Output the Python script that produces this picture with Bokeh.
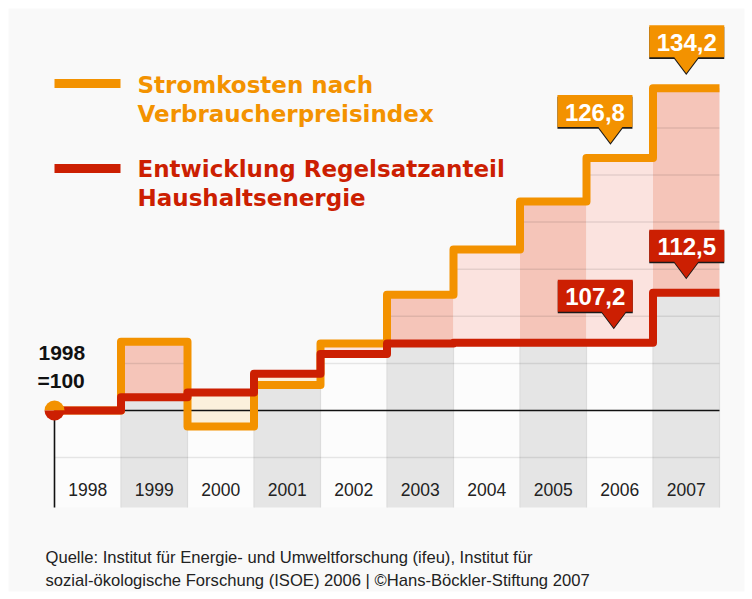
import numpy as np
from bokeh.plotting import figure
from bokeh.models import Range1d
from bokeh.core.properties import value
from bokeh.embed import file_html
from bokeh.resources import INLINE

# ---------------- data ----------------
YEARS = ["1998", "1999", "2000", "2001", "2002", "2003", "2004", "2005", "2006", "2007"]
STROM = [100, 107.3, 98.3, 102.7, 107.1, 112.3, 117.1, 122.2, 126.8, 134.2]
REGEL = [100, 101.4, 101.9, 103.9, 106.0, 107.1, 107.2, 107.2, 107.2, 112.5]
GRID_LEVELS = [95, 105, 110, 115, 120, 125, 130]
BASE = 100
CALLOUT_TEXT = ["134,2", "126,8", "107,2", "112,5"]
LEGEND_1 = ["Stromkosten nach", "Verbraucherpreisindex"]
LEGEND_2 = ["Entwicklung Regelsatzanteil", "Haushaltsenergie"]
BASE_LABEL = ["1998", "=100"]
FOOTER = ["Quelle: Institut für Energie- und Umweltforschung (ifeu), Institut für",
          "sozial-ökologische Forschung (ISOE) 2006 | \u00a9Hans-Böckler-Stiftung 2007"]

# ---------------- styles ----------------
ORANGE = "#f39200"
RED = "#cc1f02"
PINK_DARK = "#f5c5b9"
PINK_LIGHT = "#fbe3df"
CREAM = "#fbf0dc"
COL_GRAY = "#e5e5e5"
COL_WHITE = "#fcfcfc"
BG = "#f9f9f9"

PXX = 66.5   # pixels per column
PXY = 9.42   # pixels per index point


def X(px):
    return (px - 54) / PXX


def Y(py):
    return BASE + (410 - py) / PXY


def dx(px):
    return px / PXX


def dy(px):
    return px / PXY


p = figure(width=752, height=599, x_range=Range1d(X(8), X(744)), y_range=Range1d(Y(591), Y(8)),
           output_backend="svg", toolbar_location=None,
           min_border_left=8, min_border_right=8, min_border_top=8, min_border_bottom=8,
           x_axis_location=None, y_axis_location=None)
p.grid.visible = False
p.outline_line_color = None
p.background_fill_color = BG
p.border_fill_color = "white"

n = len(YEARS)
idx = np.arange(n)
strom = np.array(STROM)
regel = np.array(REGEL)
lower = np.minimum(strom, regel)
upper = np.maximum(strom, regel)
bottom = Y(507)

# columns under the lines
col_colors = [COL_GRAY if i % 2 == 1 else COL_WHITE for i in idx]
p.quad(left=idx, right=idx + 1, bottom=[bottom] * n, top=lower, fill_color=col_colors,
       line_color=None)
gray = idx[idx % 2 == 1]
p.segment(x0=np.concatenate([gray, gray + 1]), y0=[bottom] * (2 * len(gray)),
          x1=np.concatenate([gray, gray + 1]), y1=np.concatenate([lower[gray], lower[gray]]),
          line_color="#dcdcdc", line_width=1.2)

# fills between the two lines
fill_colors = []
for i in idx:
    if strom[i] < regel[i]:
        fill_colors.append(CREAM)
    elif i % 2 == 1:
        fill_colors.append(PINK_DARK)
    else:
        fill_colors.append(PINK_LIGHT)
p.quad(left=idx, right=idx + 1, bottom=lower, top=upper, fill_color=fill_colors, line_color=None)

# grid segments below the upper envelope
gx0, gx1, gy = [], [], []
for g in GRID_LEVELS:
    for i in idx:
        if g < upper[i]:
            gx0.append(i)
            gx1.append(i + 1)
            gy.append(g)
p.segment(x0=gx0, y0=gy, x1=gx1, y1=gy, line_color="#000000", line_alpha=0.09, line_width=1.5)

# baseline and axis stub
p.segment(x0=[0], y0=[BASE], x1=[n], y1=[BASE], line_color="#111111", line_width=1.6)
p.segment(x0=[0], y0=[bottom], x1=[0], y1=[BASE], line_color="#111111", line_width=1.6)

# year labels
p.text(x=idx + 0.5, y=[Y(489)] * n, text=YEARS, text_font=value("Liberation Sans"),
       text_font_size="17.5px", text_color="#222222", text_align="center", text_baseline="middle")


def step(vals):
    xs, ys = [], []
    for i, v in enumerate(vals):
        xs += [i, i + 1]
        ys += [v, v]
    return xs, ys


sx, sy = step(STROM)
p.line(sx, sy, line_color=ORANGE, line_width=8, line_join="round", line_cap="butt")
rx, ry = step(REGEL)
p.line(rx, ry, line_color=RED, line_width=8, line_join="round", line_cap="butt")

# start dot
p.wedge(x=[0], y=[BASE], radius=10, radius_units="screen", start_angle=0, end_angle=np.pi,
        fill_color=ORANGE, line_color=None)
p.wedge(x=[0], y=[BASE], radius=10, radius_units="screen", start_angle=np.pi, end_angle=2 * np.pi,
        fill_color=RED, line_color=None)


# callouts
def callout(tipx, val, left_off, right_off, color, label):
    tip_y = val + dy(15)
    base_y = tip_y + dy(16)
    top_y = base_y + dy(32)
    lx = tipx + dx(left_off)
    rxx = tipx + dx(right_off)
    hw = dx(12)
    xs = [lx, rxx, rxx, tipx + hw, tipx, tipx - hw, lx]
    ys = [top_y, top_y, base_y, base_y, tip_y, base_y, base_y]
    p.patch(xs, [y - dy(1.6) for y in ys], fill_color="#1a1a1a", line_color=None)
    p.patch(xs, ys, fill_color=color, line_color=None)
    p.text(x=[(lx + rxx) / 2], y=[(base_y + top_y) / 2 - dy(1)], text=[label],
           text_font=value("Liberation Sans"), text_font_style="bold", text_font_size="24px",
           text_color="white", text_align="center", text_baseline="middle")


callout(9.5, STROM[9], -37, 38, ORANGE, CALLOUT_TEXT[0])
callout(8.36, STROM[8], -53, 22, ORANGE, CALLOUT_TEXT[1])
callout(8.41, REGEL[8], -56, 19, RED, CALLOUT_TEXT[2])
callout(9.5, REGEL[9], -37, 38, RED, CALLOUT_TEXT[3])

# base label
p.text(x=[X(38), X(37)], y=[Y(352), Y(380)], text=BASE_LABEL, text_font=value("Liberation Sans"),
       text_font_style="bold", text_font_size="21px", text_color="#111111",
       text_align="left", text_baseline="middle")

# legend
p.segment(x0=[X(54), X(54)], y0=[Y(83), Y(168)], x1=[X(120), X(120)], y1=[Y(83), Y(168)],
          line_color=[ORANGE, RED], line_width=9)
p.text(x=[X(137)] * 2, y=[Y(84), Y(113)], text=LEGEND_1, text_font=value("DejaVu Sans"),
       text_font_style="bold", text_font_size="23px", text_color=ORANGE,
       text_align="left", text_baseline="middle")
p.text(x=[X(137)] * 2, y=[Y(168), Y(197)], text=LEGEND_2, text_font=value("DejaVu Sans"),
       text_font_style="bold", text_font_size="23px", text_color=RED,
       text_align="left", text_baseline="middle")

# footer
p.text(x=[X(45)] * 2, y=[Y(557), Y(580)], text=FOOTER, text_font=value("Liberation Sans"),
       text_font_size="16.6px", text_color="#222222", text_align="left", text_baseline="middle")

open("out.html", "w").write(file_html(p, INLINE))
